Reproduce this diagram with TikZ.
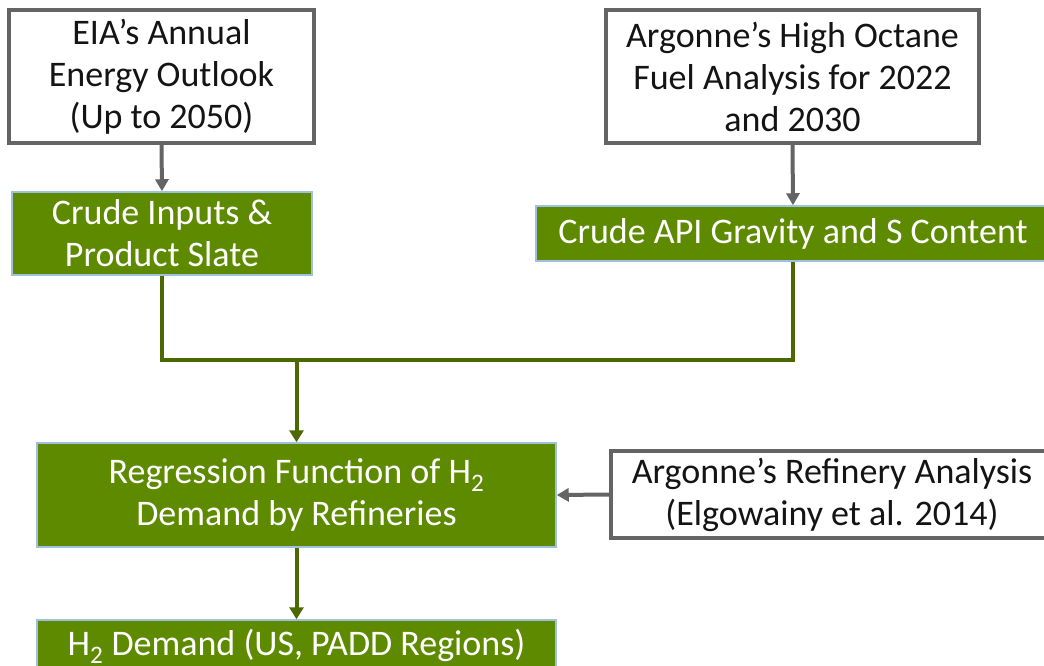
\documentclass[tikz,border=0pt]{standalone}
\usepackage{fontspec}
\setmainfont{Carlito}
\usetikzlibrary{arrows.meta}
\definecolor{boxgreen}{RGB}{94,138,0}
\definecolor{boxblue}{RGB}{160,192,224}
\definecolor{linegreen}{RGB}{76,104,0}
\definecolor{linegray}{RGB}{100,100,100}
\definecolor{txt}{RGB}{20,20,20}
\tikzset{
  srcbox/.style={draw=linegray, line width=3.5pt, fill=white, inner sep=0pt, align=center,
    text=txt, font=\fontsize{36}{42}\selectfont},
  greenbox/.style={draw=boxblue, line width=1.5pt, fill=boxgreen, inner sep=0pt, align=center,
    text=white, font=\fontsize{36}{42}\selectfont},
  grayarrow/.style={draw=linegray, line width=4pt, -{Triangle[length=12pt,width=13pt]}},
  greenline/.style={draw=linegreen, line width=4pt},
  greenarrow/.style={draw=linegreen, line width=4pt, -{Triangle[length=12pt,width=14pt]}},
}
\begin{document}
\begin{tikzpicture}[x=1pt,y=-1pt]
\useasboundingbox (0,0) rectangle (1044,666);
\begin{scope}
\clip (0,0) rectangle (1044,666);
\fill[white] (0,0) rectangle (1044,666);
\node[srcbox, minimum width=305pt, minimum height=133pt] (eia) at (161.5,76.5)
  {EIA’s Annual\\Energy Outlook\\(Up to 2050)};
\node[srcbox, minimum width=373pt, minimum height=133pt] (oct) at (792.5,76.5)
  {Argonne’s High Octane\\Fuel Analysis for 2022\\and 2030};
\node[greenbox, minimum width=300pt, minimum height=83pt] (crude) at (162,233.5)
  {Crude Inputs \&\\Product Slate};
\node[greenbox, minimum width=514pt, minimum height=55pt] (api) at (793,233.5)
  {Crude API Gravity and S Content};
\node[greenbox, minimum width=519pt, minimum height=104pt] (reg) at (296.5,495)
  {Regression Function of H\textsubscript{2}\\Demand by Refineries};
\node[srcbox, minimum width=442pt, minimum height=87pt] (ref) at (832,494.5)
  {Argonne’s Refinery Analysis\\(Elgowainy et al. 2014)};
\node[greenbox, minimum width=519pt, minimum height=52pt] (dem) at (296.5,646)
  {H\textsubscript{2} Demand (US, PADD Regions)};
\coordinate (merge) at (296.5,360);
\draw[grayarrow] (eia.south) -- (crude.north);
\draw[grayarrow] (oct.south) -- (api.north);
\draw[greenline] (crude.south) |- (merge) -| (api.south);
\draw[greenarrow] (merge) -- (reg.north);
\draw[grayarrow] (ref.west) -- (reg.east);
\draw[greenarrow] (reg.south) -- (dem.north);
\end{scope}
\end{tikzpicture}
\end{document}
